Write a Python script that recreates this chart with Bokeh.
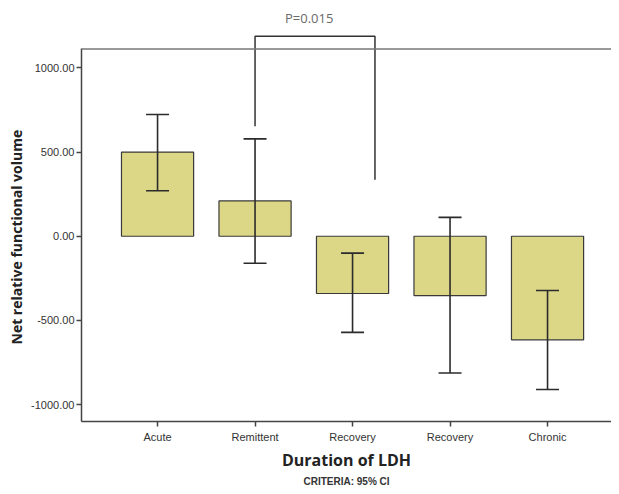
from bokeh.plotting import figure
from bokeh.models import FixedTicker, Span, Title, ColumnDataSource, NumeralTickFormatter
from bokeh.core.properties import value
from bokeh.embed import file_html
from bokeh.resources import INLINE

categories = ["Acute", "Remittent", "Recovery", "Recovery", "Chronic"]
means = [500, 210, -340, -352, -615]
ci_upper = [723, 578, -100, 112, -322]
ci_lower = [270, -160, -571, -812, -910]
y_ticks = [-1000, -500, 0, 500, 1000]

# significance bracket (category positions, value units)
bracket_x = [1, 2.23]
bracket_y = 1188
bracket_leg_bottom = [653, 335]
p_text = "P=0.015"

x = list(range(len(categories)))
src = ColumnDataSource(dict(x=x, top=means, up=ci_upper, lo=ci_lower,
                            cl=[v - 0.118 for v in x], cr=[v + 0.118 for v in x]))

p = figure(width=611, height=486, output_backend="svg", toolbar_location=None,
           x_range=(-0.78, 4.656), y_range=(-1100, 1400),
           min_border_left=81, min_border_right=0, min_border_top=0, min_border_bottom=0)
p.outline_line_color = None
p.xgrid.visible = False
p.ygrid.visible = False
p.background_fill_color = "white"

p.vbar(x="x", top="top", bottom=0, width=0.74, source=src,
       fill_color="#DCD687", line_color="#3a3a3a", line_width=1.2)
p.segment(x0="x", y0="lo", x1="x", y1="up", source=src, line_color="#2b2b2b", line_width=1.6)
p.segment(x0="cl", y0="up", x1="cr", y1="up", source=src, line_color="#2b2b2b", line_width=1.6)
p.segment(x0="cl", y0="lo", x1="cr", y1="lo", source=src, line_color="#2b2b2b", line_width=1.6)

# frame top line
p.add_layout(Span(location=1112, dimension="width", line_color="#777777", line_width=1.5))

# bracket
p.line(x=[bracket_x[0], bracket_x[0], bracket_x[1], bracket_x[1]],
       y=[bracket_leg_bottom[0], bracket_y, bracket_y, bracket_leg_bottom[1]],
       line_color="#333333", line_width=1.5)
p.text(x=[sum(bracket_x) / 2 - 0.06], y=[1294], text=[p_text], text_align="center",
       text_baseline="middle", text_font=value("Open Sans"), text_font_size="13px",
       text_color="#6a6a6a")

# y axis
p.yaxis.ticker = FixedTicker(ticks=y_ticks)
p.yaxis.formatter = NumeralTickFormatter(format="0.00")
p.yaxis.bounds = (-1100, 1112)
p.yaxis.axis_line_color = "#444444"
p.yaxis.axis_line_width = 1.5
p.yaxis.major_tick_out = 5
p.yaxis.major_tick_in = 0
p.yaxis.minor_tick_line_color = None
p.yaxis.major_tick_line_color = "#444444"
p.yaxis.major_tick_line_width = 1.5
p.yaxis.major_label_standoff = 2
p.yaxis.major_label_text_font = "Liberation Sans"
p.yaxis.major_label_text_font_size = "11px"
p.yaxis.major_label_text_color = "#333333"

# y axis title as a side title so it can be shifted to the axis-line centre
ytitle = Title(text="Net relative functional volume", align="left", text_font="Open Sans",
               text_font_size="14px", text_font_style="bold", text_color="#222222",
               offset=77, standoff=6)
p.add_layout(ytitle, "left")

# x axis
p.xaxis.ticker = FixedTicker(ticks=x)
p.xaxis.major_label_overrides = {i: c for i, c in enumerate(categories)}
p.xaxis.axis_line_color = "#444444"
p.xaxis.axis_line_width = 1.5
p.xaxis.major_tick_out = 5
p.xaxis.major_tick_in = 0
p.xaxis.minor_tick_line_color = None
p.xaxis.major_tick_line_color = "#444444"
p.xaxis.major_tick_line_width = 1.5
p.xaxis.major_label_standoff = 4
p.xaxis.major_label_text_font = "Liberation Sans"
p.xaxis.major_label_text_font_size = "11px"
p.xaxis.major_label_text_color = "#333333"
p.xaxis.axis_label = "Duration of LDH"
p.xaxis.axis_label_text_font = "Open Sans"
p.xaxis.axis_label_text_font_style = "bold"
p.xaxis.axis_label_text_font_size = "16px"
p.xaxis.axis_label_text_color = "#222222"
p.xaxis.axis_label_standoff = 3

sub = Title(text="CRITERIA: 95% CI", align="center", text_font="Liberation Sans",
            text_font_size="10px", text_font_style="bold", text_color="#333333",
            offset=0, standoff=0)
p.add_layout(sub, "below")

open("out.html", "w").write(file_html(p, INLINE))
